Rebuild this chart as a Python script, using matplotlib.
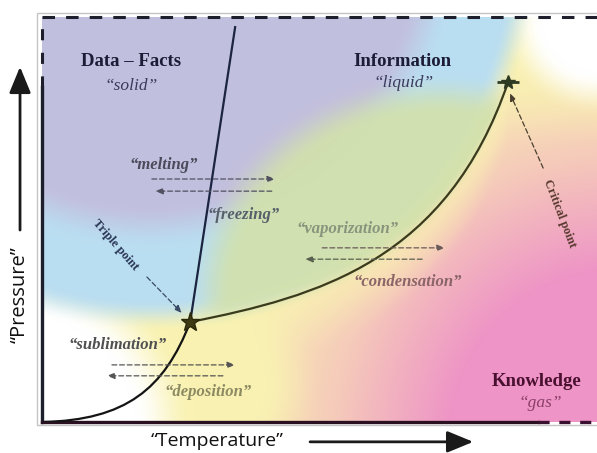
import numpy as np
import matplotlib
matplotlib.use("Agg")
from matplotlib import pyplot as plt
from matplotlib.patches import Rectangle, PathPatch
from matplotlib.path import Path

plt.rcParams["lines.scale_dashes"] = False

# phase boundaries ("temperature", "pressure" on a 0-100 scale)
# curved boundaries are cubic Bezier control points
sublimation_t = [0.2, 15.0, 22.0, 26.7]
sublimation_p = [0.0, 0.5, 8.0, 24.7]
melting_t = [26.7, 34.8]
melting_p = [24.7, 97.5]
vaporization_t = [26.7, 50.0, 73.0, 84.0]
vaporization_p = [24.7, 31.0, 40.0, 84.0]
triple_point = (26.7, 24.7)
critical_point = (84.0, 84.0)

region_names = ["Data \u2013 Facts", "Information", "Knowledge"]
region_states = ["\u201csolid\u201d", "\u201cliquid\u201d", "\u201cgas\u201d"]
processes = ["melting", "freezing", "vaporization", "condensation", "sublimation", "deposition"]


def smoothstep(e0, e1, x):
    t = np.clip((x - e0) / (e1 - e0), 0, 1)
    return t * t * (3 - 2 * t)


def mix(a, b, w):
    w = np.asarray(w)[..., None]
    return a * (1 - w) + b * w


def bezier(ts, ps, n=200):
    s = np.linspace(0, 1, n)[:, None]
    pts = np.column_stack([ts, ps])
    out = ((1 - s) ** 3 * pts[0] + 3 * (1 - s) ** 2 * s * pts[1]
           + 3 * (1 - s) * s ** 2 * pts[2] + s ** 3 * pts[3])
    return out[:, 0], out[:, 1]


def background():
    # soft coloured blobs, laid out in image pixels of the 597x453 picture
    px, py = np.meshgrid(np.arange(42, 597) + 0.5, np.arange(17, 422) + 0.5)
    white = np.array([1.0, 1.0, 1.0])
    yellow = np.array([249, 242, 178]) / 255
    peach = np.array([245, 202, 186]) / 255
    pink = np.array([238, 148, 198]) / 255
    lavender = np.array([194, 191, 222]) / 255
    blue = np.array([186, 222, 241]) / 255
    green = np.array([210, 225, 172]) / 255

    # liquid/gas boundary in pixels, used to shape the colour fields
    vt, vp = bezier(vaporization_t, vaporization_p)
    cx = 42 + vt * 5.55
    cy = 422 - vp * 4.05
    dv = py - np.interp(px, cx, cy)
    dv_cut = py - np.interp(px, np.r_[cx, 640], np.r_[cy, -120])

    # gas: yellow near the curve, pink toward the lower right corner
    d = np.hypot(px - 620, py - 440)
    t = np.clip((400 - d) / 230, 0, 1) * (0.35 + 0.65 * smoothstep(0, 70, dv))
    img = np.where((t < 0.5)[..., None],
                   mix(yellow, peach, np.clip(t * 2, 0, 1)),
                   mix(peach, pink, np.clip(t * 2 - 1, 0, 1)))
    w = 1 - smoothstep(40, 110, np.hypot(px - 215, py - 385))
    img = mix(img, yellow, w)

    w = 1 - smoothstep(115, 175, np.hypot(px - 20, py - 430))
    img = mix(img, white, w)
    w = 1 - smoothstep(55, 100, np.hypot(px - 597, py - 17))
    img = mix(img, white, w)

    # solid: lavender core with a light blue rim
    d = np.hypot(px - 150, py + 60)
    solid = mix(np.broadcast_to(lavender, img.shape), blue, smoothstep(262, 310, d))
    a = 1 - smoothstep(360, 392, d)
    img = mix(img, solid, a)

    # liquid: green lens above the vaporization curve
    e = np.sqrt(((px - 440) / 240) ** 2 + ((py - 300) / 215) ** 2)
    a = 0.93 * (1 - smoothstep(0.86, 1.06, e)) * smoothstep(-12, 14, -dv_cut)
    img = mix(img, green, a)
    return np.clip(img, 0, 1)


fig = plt.figure(figsize=(5.97, 4.53), dpi=100)
ax = fig.add_axes([42 / 597, 31 / 453, 555 / 597, 405 / 453])
ax.imshow(background(), extent=[0, 100, 0, 100], origin="upper",
          aspect="auto", interpolation="bilinear", zorder=0)
ax.set_xlim(0, 100)
ax.set_ylim(0, 100)
ax.set_xticks([])
ax.set_yticks([])
for s in ax.spines.values():
    s.set_visible(False)

# light frame of the picture
fig.patches.append(Rectangle((37 / 597, 28 / 453), 565 / 597, 412 / 453,
                             transform=fig.transFigure, fill=False,
                             ec="#c4c4c4", lw=1))

# box: solid + dashed parts
frame = "#1d1f2c"
ax.plot([0, 0], [0, 0.827], color=frame, lw=2.4, transform=ax.transAxes, clip_on=False)
ax.plot([0, 0], [0.827, 1], color=frame, lw=2.2, ls=(0, (8, 9)), transform=ax.transAxes, clip_on=False)
ax.plot([0, 1], [1, 1], color=frame, lw=2.2, ls=(0, (9, 8)), transform=ax.transAxes, clip_on=False)
ax.plot([0, 0.894], [0, 0], color="#2a1020", lw=2.4, transform=ax.transAxes, clip_on=False)
ax.plot([0.894, 1], [0, 0], color="#3a1030", lw=2.4, ls=(0, (8, 7)), transform=ax.transAxes, clip_on=False)


def curve(ts, ps, color):
    codes = [Path.MOVETO, Path.CURVE4, Path.CURVE4, Path.CURVE4]
    ax.add_patch(PathPatch(Path(np.column_stack([ts, ps]), codes), fill=False,
                           ec=color, lw=1.6, zorder=3))


# phase boundaries
curve(sublimation_t, sublimation_p, "#141414")
ax.plot(melting_t, melting_p, color="#1b2440", lw=1.6, zorder=3)
curve(vaporization_t, vaporization_p, "#3a3a1c")
ax.plot(*triple_point, marker="*", ms=14, color="#3d3a14", mec="#2a2808", zorder=5)
ax.plot(*critical_point, marker="_", ms=16, mew=2, color="#2e3a22", zorder=5)
ax.plot(*critical_point, marker="*", ms=10, color="#2e3a22", zorder=5)

# region labels
serif = "Liberation Serif"
ax.text(16.0, 88.9, region_names[0], family=serif, weight="bold", size=13.5,
        color="#1c1c36", ha="center", va="center")
ax.text(16.0, 83.0, region_states[0], family=serif, style="italic", size=12.5,
        color="#3a3a5c", ha="center", va="center")
ax.text(64.9, 88.9, region_names[1], family=serif, weight="bold", size=13.5,
        color="#1c1c36", ha="center", va="center")
ax.text(65.2, 83.7, region_states[1], family=serif, style="italic", size=12.5,
        color="#3a3a5c", ha="center", va="center")
ax.text(89.2, 9.9, region_names[2], family=serif, weight="bold", size=13.5,
        color="#4a1030", ha="center", va="center")
ax.text(89.7, 4.7, region_states[2], family=serif, style="italic", size=12.5,
        color="#8a4068", ha="center", va="center")


def q(word):
    return "\u201c" + word + "\u201d"


proc_kw = dict(family=serif, style="italic", weight="bold", size=12, ha="center", va="center")
ax.text(22.0, 63.5, q(processes[0]), color="#4a4a5a", **proc_kw)
ax.text(36.4, 51.1, q(processes[1]), color="#56606a", **proc_kw)
ax.text(55.0, 47.7, q(processes[2]), color="#8a947c", **proc_kw)
ax.text(65.9, 34.6, q(processes[3]), color="#8a6468", **proc_kw)
ax.text(13.7, 19.0, q(processes[4]), color="#505050", **proc_kw)
ax.text(29.9, 7.4, q(processes[5]), color="#8c8a62", **proc_kw)


def dashed_arrow(x0, y0, x1, y1, color):
    ax.annotate("", xy=(x1, y1), xytext=(x0, y0),
                arrowprops=dict(arrowstyle="-|>,head_length=0.45,head_width=0.18",
                                color=color, lw=0.9, ls=(0, (3.5, 2)),
                                shrinkA=0, shrinkB=0))


dashed_arrow(19.8, 60.0, 42.0, 60.0, "#505060")
dashed_arrow(41.4, 57.0, 20.4, 57.0, "#505060")
dashed_arrow(50.5, 43.0, 72.6, 43.0, "#6a5a58")
dashed_arrow(68.5, 40.2, 47.4, 40.2, "#5a6050")
dashed_arrow(12.6, 14.1, 34.8, 14.1, "#555555")
dashed_arrow(32.6, 11.4, 11.7, 11.4, "#555555")

# pointers
ax.text(13.3, 43.7, "Triple point", family=serif, weight="bold", size=9,
        color="#2a3656", rotation=-49, ha="center", va="center")
dashed_arrow(18.9, 35.8, 25.2, 26.9, "#3a4a66")
ax.text(93.2, 51.6, "Critical point", family=serif, weight="bold", size=9,
        color="#5a3a30", rotation=-69, ha="center", va="center")
dashed_arrow(90.3, 62.7, 84.3, 81.2, "#4a4030")

# axis arrows and labels
head = "-|>,head_length=0.8,head_width=0.33"
ax.annotate("", xy=(-0.0396, 0.877), xytext=(-0.0396, 0.474), xycoords="axes fraction",
            arrowprops=dict(arrowstyle=head, lw=2, color="#1a1a1a", mutation_scale=20,
                            shrinkA=0, shrinkB=0))
ax.annotate("", xy=(0.777, -0.049), xytext=(0.483, -0.049), xycoords="axes fraction",
            arrowprops=dict(arrowstyle=head, lw=2, color="#1a1a1a", mutation_scale=20,
                            shrinkA=0, shrinkB=0))
ax.text(-0.0396, 0.314, "\u201cPressure\u201d", transform=ax.transAxes, rotation=90,
        family="Open Sans", size=14.5, color="#111111", ha="center", va="center")
ax.text(0.315, -0.047, "\u201cTemperature\u201d", transform=ax.transAxes,
        family="Open Sans", size=14, color="#111111", ha="center", va="center")

fig.savefig("out.png", dpi=100)
